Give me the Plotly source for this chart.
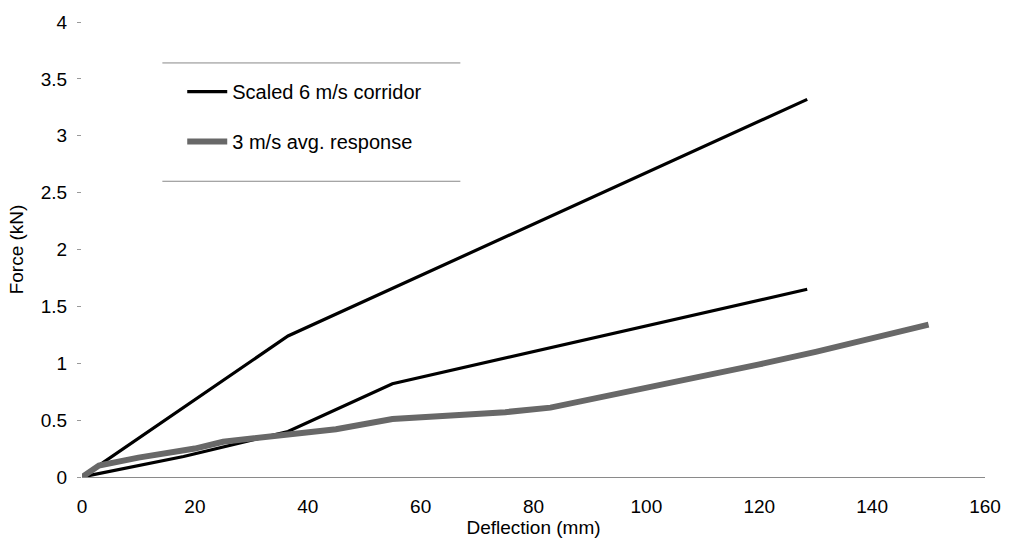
import plotly.graph_objects as go

# Scaled 6 m/s corridor (upper and lower bounds)
upper_x = [0, 36.5, 128.5]
upper_y = [0, 1.24, 3.32]
lower_x = [0, 18, 36.5, 55, 128.5]
lower_y = [0, 0.18, 0.40, 0.82, 1.65]

# 3 m/s average response
resp_x = [0, 3, 10, 20, 25, 30, 37, 45, 55, 65, 75, 83, 91, 100, 110, 120, 130, 140, 150]
resp_y = [0, 0.10, 0.17, 0.25, 0.31, 0.34, 0.37, 0.42, 0.51, 0.54, 0.57, 0.61, 0.69, 0.78, 0.88, 0.99, 1.10, 1.22, 1.34]

x_ticks = [0, 20, 40, 60, 80, 100, 120, 140, 160]
y_ticks = [0, 0.5, 1, 1.5, 2, 2.5, 3, 3.5, 4]
y_labels = ["0", "0.5", "1", "1.5", "2", "2.5", "3", "3.5", "4"]

FONT = "Liberation Sans, Arial, sans-serif"

fig = go.Figure()
fig.add_trace(go.Scatter(x=upper_x, y=upper_y, mode="lines",
                         line=dict(color="black", width=3.2),
                         name="Scaled 6 m/s corridor", legendgroup="a"))
fig.add_trace(go.Scatter(x=lower_x, y=lower_y, mode="lines",
                         line=dict(color="black", width=3.2),
                         name="Scaled 6 m/s corridor", legendgroup="a", showlegend=False))
fig.add_trace(go.Scatter(x=resp_x, y=resp_y, mode="lines",
                         line=dict(color="#686868", width=6),
                         name="3 m/s avg. response", legendgroup="b"))

fig.update_layout(
    width=1013, height=544,
    margin=dict(l=82, r=21, t=22, b=65),
    paper_bgcolor="white", plot_bgcolor="white",
    font=dict(family=FONT, size=19, color="black"),
    showlegend=True,
    legend=dict(x=0.111, y=0.89, xanchor="left", yanchor="top",
                bgcolor="rgba(0,0,0,0)", borderwidth=0,
                font=dict(size=20, family=FONT),
                traceorder="grouped", tracegroupgap=21,
                itemwidth=40),
    xaxis=dict(range=[0, 160], tickvals=x_ticks, ticks="", showgrid=False,
               zeroline=False, showline=True, linecolor="#8a8a8a", linewidth=1,
               ticklabelstandoff=12,
               title=dict(text="Deflection (mm)", font=dict(size=19), standoff=2),
               tickfont=dict(size=19)),
    yaxis=dict(range=[0, 4], tickvals=y_ticks, ticktext=y_labels, ticks="outside",
               ticklen=4, tickcolor="#999999", showgrid=False, zeroline=False,
               showline=False, ticklabelstandoff=6,
               title=dict(text="Force (kN)", font=dict(size=19), standoff=12),
               tickfont=dict(size=19)),
    shapes=[
        dict(type="line", xref="paper", yref="paper", x0=0.089, x1=0.419, y0=0.910, y1=0.910,
             line=dict(color="#888888", width=1)),
        dict(type="line", xref="paper", yref="paper", x0=0.089, x1=0.419, y0=0.650, y1=0.650,
             line=dict(color="#888888", width=1)),
    ],
)

fig.write_html("out.html", config={"displayModeBar": False},
               post_script="document.body.style.margin='0px';")
